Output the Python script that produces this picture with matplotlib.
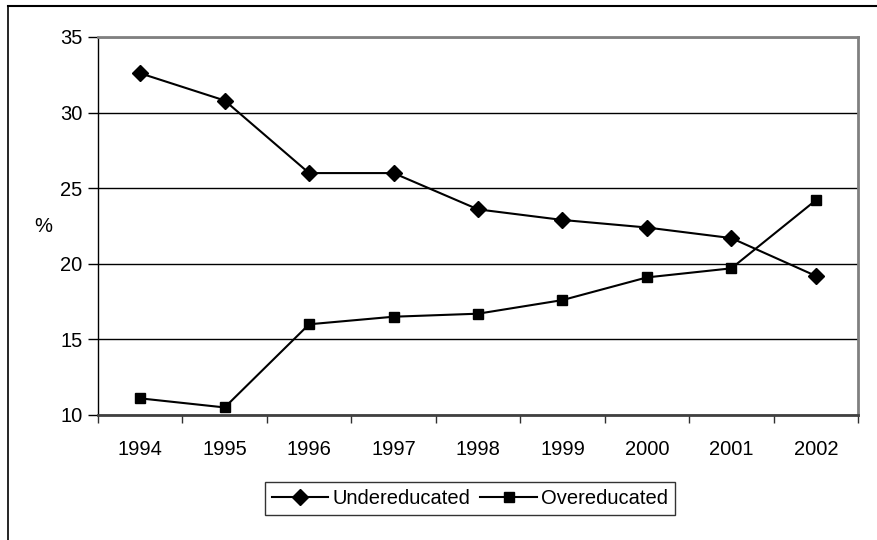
import numpy as np
import matplotlib.pyplot as plt
from matplotlib.lines import Line2D

plt.rcParams['font.family'] = ['Liberation Sans', 'DejaVu Sans']

years = ['1994', '1995', '1996', '1997', '1998', '1999', '2000', '2001', '2002']
under = [32.6, 30.8, 26.0, 26.0, 23.6, 22.9, 22.4, 21.7, 19.2]
over = [11.1, 10.5, 16.0, 16.5, 16.7, 17.6, 19.1, 19.7, 24.2]

fs = 14.5
fig = plt.figure(figsize=(8.78, 5.4), dpi=100)
ax = fig.add_axes([98/878, 125/540, 760/878, 378/540])

x = np.arange(len(years))
ax.plot(x, under, color='black', lw=1.5, marker='D', ms=8,
        label='Undereducated', zorder=3)
ax.plot(x, over, color='black', lw=1.5, marker='s', ms=7.5,
        label='Overeducated', zorder=3)

ax.set_xlim(-0.5, len(years) - 0.5)
ax.set_ylim(10, 35)
ax.set_yticks(range(10, 36, 5))
ax.set_xticks(x)
ax.set_xticklabels(years)
ax.set_xticks(np.arange(-0.5, len(years), 1), minor=True)
ax.tick_params(axis='x', which='major', length=0, pad=18, labelsize=fs)
ax.tick_params(axis='x', which='minor', length=6, width=1, color='#303030')
ax.tick_params(axis='y', length=7, width=1, pad=4, labelsize=fs)

# gitterlinien
ax.grid(axis='y', color='black', lw=1)
ax.set_axisbelow(True)

ax.spines['top'].set_color('#808080')
ax.spines['right'].set_color('#808080')
ax.spines['top'].set_linewidth(2)
ax.spines['right'].set_linewidth(2)
ax.spines['left'].set_color('black')
ax.spines['left'].set_linewidth(1)
ax.spines['bottom'].set_color('#404040')
ax.spines['bottom'].set_linewidth(2)

fig.text(43/878, 1 - 227/540, '%', fontsize=fs, ha='center', va='center')

leg = fig.legend(loc='center', bbox_to_anchor=(470/878, 41.5/540), ncol=2,
                 fontsize=fs, frameon=True, fancybox=False, handlelength=2.8,
                 columnspacing=0.5, handletextpad=0.2, borderpad=0.35,
                 borderaxespad=0)
leg.get_frame().set_edgecolor('black')
leg.get_frame().set_linewidth(1)

# Rahmen links und oben
fig.add_artist(Line2D([8/878, 8/878], [0, 1 - 6/540], color='black', lw=1.2,
                      transform=fig.transFigure))
fig.add_artist(Line2D([8/878, 1], [1 - 6/540, 1 - 6/540], color='black', lw=1.5,
                      transform=fig.transFigure))

fig.savefig('out.png', dpi=100)
